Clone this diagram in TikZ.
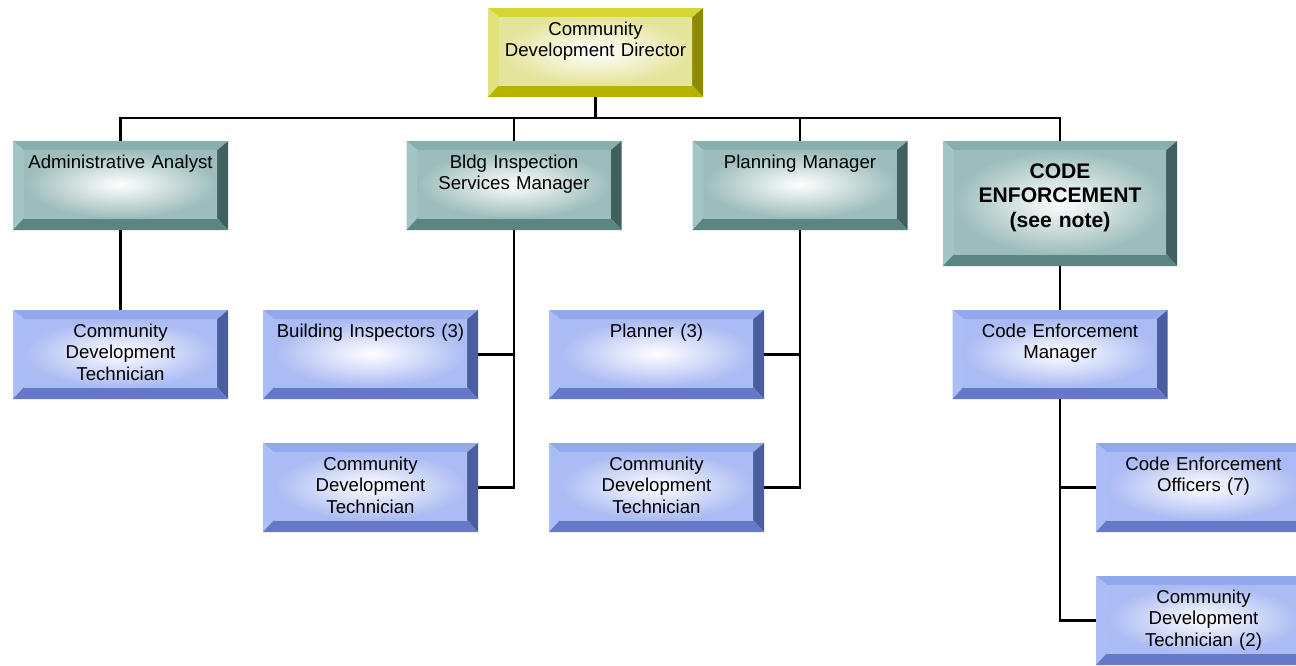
\documentclass[tikz,border=0pt]{standalone}
\usepackage{fontspec}
\setmainfont{Liberation Sans}
\usepackage{tikz}
\usetikzlibrary{positioning,calc}
% bevel colours: top, left, right, bottom, face
\definecolor{goldtop}{HTML}{D6D633}
\definecolor{goldleft}{HTML}{E2E27A}
\definecolor{goldright}{HTML}{8C8C00}
\definecolor{goldbot}{HTML}{B5B500}
\definecolor{goldface}{HTML}{E4E49C}
\definecolor{tealtop}{HTML}{86AFAD}
\definecolor{tealleft}{HTML}{A3C5C4}
\definecolor{tealright}{HTML}{3F605F}
\definecolor{tealbot}{HTML}{5A8583}
\definecolor{tealface}{HTML}{9CBDBB}
\definecolor{bluetop}{HTML}{93A9EE}
\definecolor{blueleft}{HTML}{AABDF4}
\definecolor{blueright}{HTML}{4A5D9E}
\definecolor{bluebot}{HTML}{6679C9}
\definecolor{blueface}{HTML}{ABBBF3}

\begin{document}
\begin{tikzpicture}[
    bevel/.style={path picture={
      \coordinate (oNW) at (path picture bounding box.north west);
      \coordinate (oNE) at (path picture bounding box.north east);
      \coordinate (oSW) at (path picture bounding box.south west);
      \coordinate (oSE) at (path picture bounding box.south east);
      \coordinate (iNW) at ([shift={(0.22,-0.19)}]oNW);
      \coordinate (iNE) at ([shift={(-0.22,-0.19)}]oNE);
      \coordinate (iSW) at ([shift={(0.22,0.24)}]oSW);
      \coordinate (iSE) at ([shift={(-0.22,0.24)}]oSE);
      \fill[#1top] (oNW) -- (oNE) -- (iNE) -- (iNW) -- cycle;
      \fill[#1left] (oNW) -- (iNW) -- (iSW) -- (oSW) -- cycle;
      \fill[#1right] (oNE) -- (oSE) -- (iSE) -- (iNE) -- cycle;
      \fill[#1bot] (oSW) -- (iSW) -- (iSE) -- (oSE) -- cycle;
      \shade[inner color=white, outer color=#1face] (iNW) rectangle (iSE);
    }},
    orgbox/.style={bevel=#1, inner sep=0pt, outer sep=0pt, align=center,
      minimum width=4.3cm, text width=4.3cm, text height=0.54cm, text depth=1.24cm,
      font=\fontsize{10.6}{12.4}\selectfont},
    headbox/.style={bevel=teal, inner sep=0pt, outer sep=0pt, align=center,
      minimum width=4.68cm, text width=4.68cm, text height=0.74cm, text depth=1.76cm,
      font=\fontsize{12}{14}\selectfont\bfseries},
    link/.style={line width=1.3pt, black}
  ]
  \useasboundingbox (0,0) rectangle (25.92,-13.3);
  % Director
  \node[orgbox=gold] (dir) at (11.91,-1.05) {Community\\Development Director};
  % Division heads
  \node[orgbox=teal, anchor=north] (aa) at (2.41,-2.82) {Administrative Analyst};
  \node[orgbox=teal, anchor=north] (bis) at (10.28,-2.82) {Bldg Inspection\\Services Manager};
  \node[orgbox=teal, anchor=north] (pm) at (16.0,-2.82) {Planning Manager};
  \node[headbox, anchor=north] (ce) at (21.2,-2.82) {CODE\\ENFORCEMENT\\(see note)};
  % Staff
  \node[orgbox=blue, below=1.6cm of aa] (cdta) {Community\\Development\\Technician};
  \node[orgbox=blue, below left=1.6cm and 0.72cm of bis.south] (bi) {Building Inspectors (3)};
  \node[orgbox=blue, below=0.88cm of bi] (cdtb) {Community\\Development\\Technician};
  \node[orgbox=blue, below left=1.6cm and 0.72cm of pm.south] (pl) {Planner (3)};
  \node[orgbox=blue, below=0.88cm of pl] (cdtp) {Community\\Development\\Technician};
  \node[orgbox=blue, below=0.88cm of ce] (cem) {Code Enforcement\\Manager};
  \node[orgbox=blue, below right=0.88cm and 0.72cm of cem.south] (ceo) {Code Enforcement\\Officers (7)};
  \node[orgbox=blue, below=0.88cm of ceo] (cdtc) {Community\\Development\\Technician (2)};
  % Connectors
  \coordinate (bus) at ([yshift=-0.42cm]dir.south);
  \foreach \n in {aa,bis,pm,ce}
    \draw[link] (dir.south) |- (bus -| \n.north) -- (\n.north);
  \draw[link] (aa.south) -- (cdta.north);
  \draw[link] (bis.south) |- (bi.east);
  \draw[link] (bis.south) |- (cdtb.east);
  \draw[link] (pm.south) |- (pl.east);
  \draw[link] (pm.south) |- (cdtp.east);
  \draw[link] (ce.south) -- (cem.north);
  \draw[link] (cem.south) |- (ceo.west);
  \draw[link] (cem.south) |- (cdtc.west);
\end{tikzpicture}
\end{document}
